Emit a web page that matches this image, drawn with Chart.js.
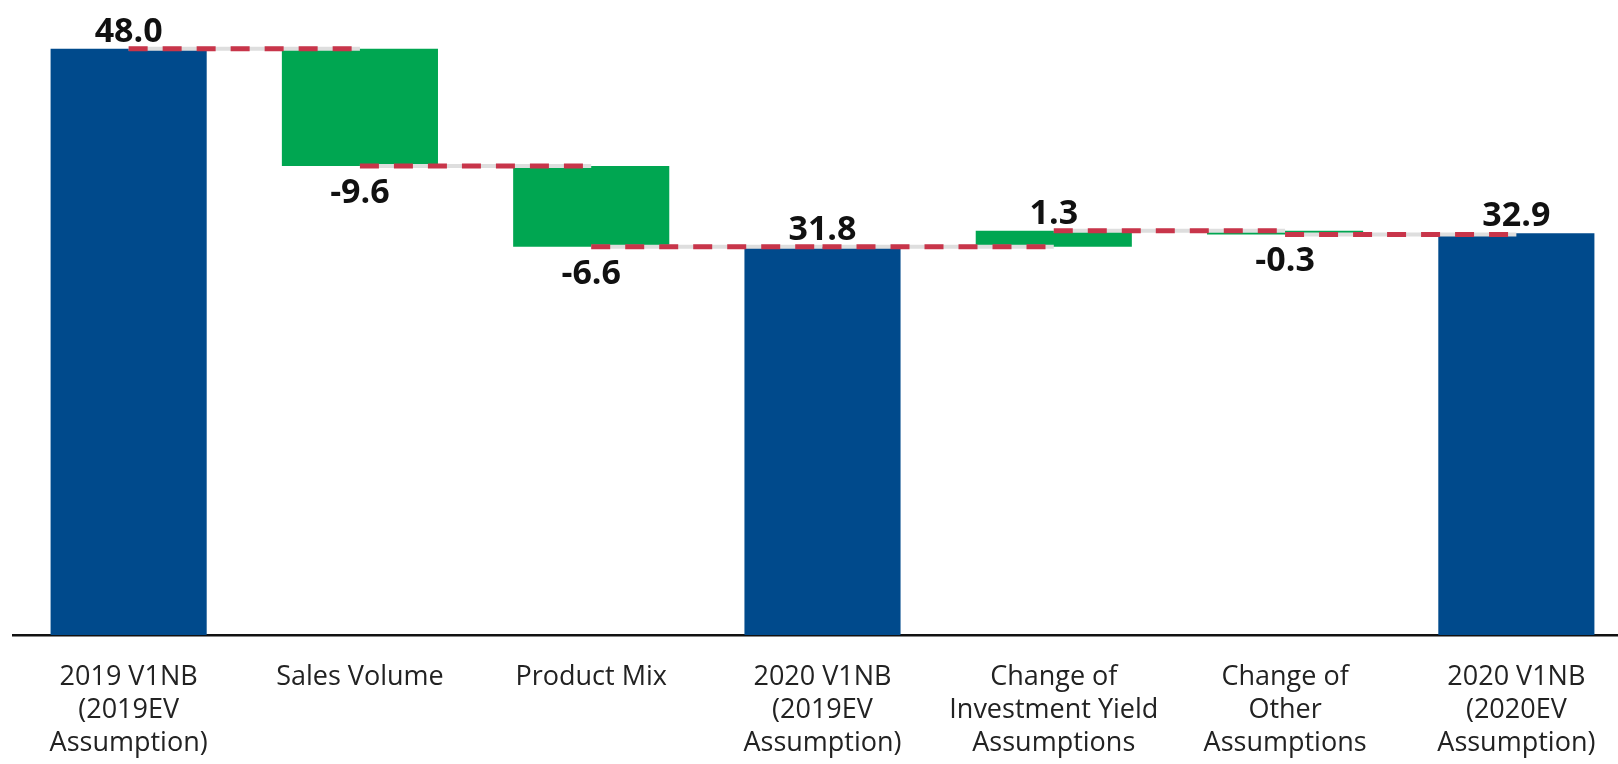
<!DOCTYPE html>
<html>
<head>
<meta charset="utf-8">
<script src="https://cdn.jsdelivr.net/npm/chart.js@4.4.1/dist/chart.umd.min.js"></script>
<style>
  html, body { margin: 0; padding: 0; background: #fff; overflow: hidden; }
</style>
</head>
<body>
<canvas id="waterfallChart" width="1640" height="764"></canvas>
<script>
const categories = [
  ['2019 V1NB', '(2019EV', 'Assumption)'],
  'Sales Volume',
  'Product Mix',
  ['2020 V1NB', '(2019EV', 'Assumption)'],
  ['Change of', 'Investment Yield', 'Assumptions'],
  ['Change of', 'Other', 'Assumptions'],
  ['2020 V1NB', '(2020EV', 'Assumption)'],
];
const values = [48.0, -9.6, -6.6, 31.8, 1.3, -0.3, 32.9];
const barKinds = ['total', 'step', 'step', 'total', 'step', 'step', 'total'];

// floating ranges + running level after each bar
let running = 0;
const ranges = [];
const levels = [];
values.forEach((v, i) => {
  if (barKinds[i] === 'total') {
    ranges.push([0, v]);
    running = v;
  } else {
    ranges.push([running, running + v]);
    running = running + v;
  }
  levels.push(running);
});

// one short line per step, from centre of bar i to centre of bar i+1
const connectorData = levels.slice(0, -1).map((lvl, i) =>
  categories.map((_, j) => (j === i || j === i + 1 ? lvl : null))
);

const connectorSets = [];
connectorData.forEach((d) => {
  connectorSets.push({
    type: 'line',
    data: d,
    borderColor: '#dedede',
    borderWidth: 4,
    pointRadius: 0,
    order: 2,
  });
  connectorSets.push({
    type: 'line',
    data: d,
    borderColor: '#C8354A',
    borderWidth: 5,
    borderDash: [19, 15],
    borderCapStyle: 'butt',
    pointRadius: 0,
    order: 1,
  });
});

const valueLabels = {
  id: 'valueLabels',
  afterDatasetsDraw(chart) {
    const ctx = chart.ctx;
    const meta = chart.getDatasetMeta(0);
    ctx.save();
    ctx.font = "bold 34px 'Open Sans'";
    ctx.fillStyle = '#111';
    ctx.textAlign = 'center';
    ctx.textBaseline = 'alphabetic';
    meta.data.forEach((bar, i) => {
      const v = values[i];
      const top = Math.min(bar.y, bar.base);
      const bottom = Math.max(bar.y, bar.base);
      if (v < 0) {
        ctx.fillText(v.toFixed(1), bar.x, bottom + 37);
      } else {
        ctx.fillText(v.toFixed(1), bar.x, top - 7);
      }
    });
    ctx.restore();
  },
};

const config = {
  type: 'bar',
  data: {
    labels: categories,
    datasets: [
      {
        data: ranges,
        backgroundColor: barKinds.map((k) => (k === 'total' ? '#004A8C' : '#00A651')),
        borderWidth: 0,
        borderSkipped: false,
        barPercentage: 0.675,
        categoryPercentage: 1,
        order: 3,
      },
      ...connectorSets,
    ],
  },
  options: {
    responsive: false,
    animation: false,
    layout: {
      padding: { left: 13, right: 8, top: 0, bottom: 3 },
    },
    plugins: {
      legend: { display: false },
      tooltip: { enabled: false },
    },
    scales: {
      x: {
        grid: { display: false, drawTicks: false },
        border: { display: true, color: '#111', width: 2.5 },
        ticks: {
          padding: 26,
          color: '#222',
          font: { family: "'Open Sans'", size: 27, lineHeight: '33px' },
          maxRotation: 0,
          autoSkip: false,
        },
        afterFit: (scale) => {
          scale.height = 126; // keep the axis line where the original sits
        },
      },
      y: {
        display: false,
        min: 0,
        max: 52,
      },
    },
  },
  plugins: [valueLabels],
};

new Chart(document.getElementById('waterfallChart'), config);
</script>
</body>
</html>
